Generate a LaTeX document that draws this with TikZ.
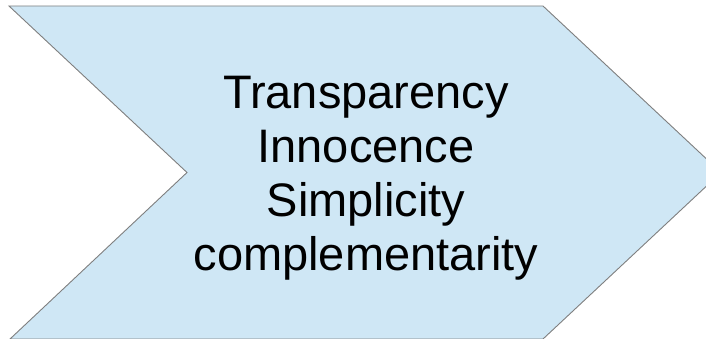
\documentclass[tikz,border=0pt]{standalone}
\usepackage{fontspec}
\setmainfont{Liberation Sans}
\definecolor{chevfill}{HTML}{CFE7F5}
\definecolor{chevline}{HTML}{7F7F7F}
\tikzset{
  chevron/.style={fill=chevfill, draw=chevline, line width=0.9pt, line join=miter},
  label/.style={align=center, inner sep=0pt, font=\fontsize{47}{54}\selectfont, text=black}
}
\begin{document}
\begin{tikzpicture}[x=1pt, y=-1pt]
  \useasboundingbox (0,0) rectangle (706,339);
  \begin{scope}
    \clip (0,0) rectangle (706,339);
    % chevron outline, tip running past the right edge
    \draw[chevron] (9,6) -- (543,6) -- (721,172.5) -- (543,339) -- (10,339) -- (187,172.5) -- cycle;
  \end{scope}
  \node[label] (words) at (366,178) {Transparency\\Innocence\\Simplicity\\complementarity};
\end{tikzpicture}
\end{document}
